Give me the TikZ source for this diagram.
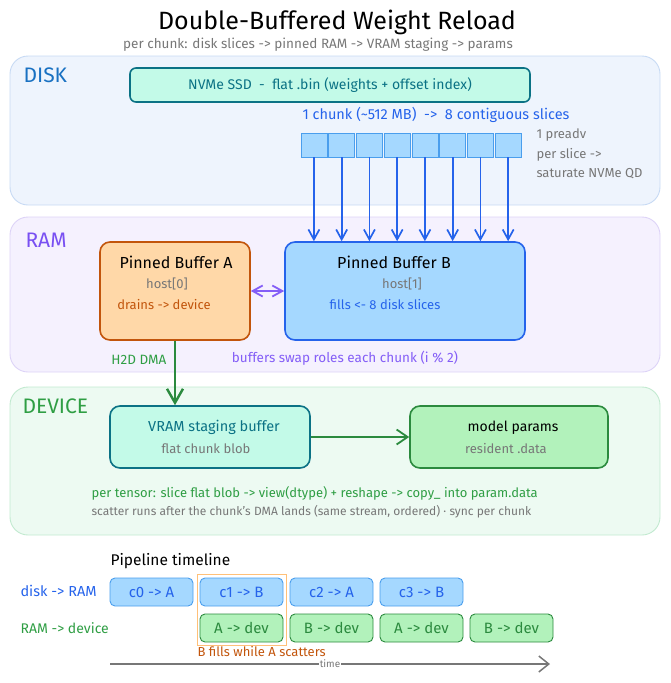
\documentclass[tikz,border=0pt]{standalone}
\usepackage{fontspec}
\setmainfont{Fira Sans}
\usetikzlibrary{arrows.meta}

\definecolor{diskfill}{HTML}{EEF4FD}
\definecolor{diskline}{HTML}{C7DAF4}
\definecolor{ramfill}{HTML}{F5F1FE}
\definecolor{ramline}{HTML}{DDD3F7}
\definecolor{devfill}{HTML}{EDFAF2}
\definecolor{devline}{HTML}{C2EAD0}
\definecolor{diskblue}{HTML}{1971C2}
\definecolor{chunkblue}{HTML}{2563EB}
\definecolor{slicefill}{HTML}{A5D8FF}
\definecolor{sliceline}{HTML}{4A9EED}
\definecolor{rampurple}{HTML}{7950F2}
\definecolor{swappurple}{HTML}{845EF7}
\definecolor{afill}{HTML}{FFD8A8}
\definecolor{aline}{HTML}{C2550C}
\definecolor{tealfill}{HTML}{C3FAE8}
\definecolor{tealline}{HTML}{0B7285}
\definecolor{greenfill}{HTML}{B2F2BB}
\definecolor{greenline}{HTML}{2B8A3E}
\definecolor{greentext}{HTML}{2F9E44}
\definecolor{hint}{HTML}{777777}
\definecolor{hilite}{HTML}{FFC078}

\newcommand{\fsz}[1]{\fontsize{#1}{#1}\selectfont}

\begin{document}
\begin{tikzpicture}[x=1pt, y=-1pt, >={Straight Barb[length=10pt, width=11pt]},
    panel/.style={draw, rounded corners=18pt, line width=0.9pt},
    tag/.style={anchor=west, font=\fsz{21}},
    box/.style={draw, rounded corners=10pt, line width=1.6pt, inner sep=0pt},
    slice/.style={draw=sliceline, fill=slicefill, line width=0.8pt, minimum width=26pt, minimum height=24pt, inner sep=0pt},
    lane/.style={draw, rounded corners=5pt, line width=0.9pt, minimum width=83pt, minimum height=28pt, inner sep=0pt, font=\fsz{15}},
    txt/.style={font=\fsz{13}},
    note/.style={font=\fsz{13}, text=hint}]
  \useasboundingbox (0,0) rectangle (670,683);

  % title
  \node[font=\fsz{25}] (title) at (337,22) {Double-Buffered Weight Reload};
  \node[note, font=\fsz{13.5}] (subtitle) at (318,45) {per chunk: disk slices -> pinned RAM -> VRAM staging -> params};

  % layers
  \draw[panel, draw=diskline, fill=diskfill] (10,56) rectangle (660,205);
  \draw[panel, draw=ramline, fill=ramfill] (10,217) rectangle (660,372);
  \draw[panel, draw=devline, fill=devfill] (10,387) rectangle (660,535);
  \node[tag, text=diskblue] (disklbl) at (20,75) {DISK};
  \node[tag, text=rampurple] (ramlbl) at (22,240) {RAM};
  \node[tag, text=greentext] (devlbl) at (19,406) {DEVICE};

  % disk
  \node[box, draw=tealline, fill=tealfill, rounded corners=6pt, minimum width=400pt, minimum height=34pt,
    text=tealline, font=\fsz{14}] (ssd) at (330,85) {NVMe SSD \ - \ flat .bin (weights + offset index)};
  \node[txt, text=chunkblue, font=\fsz{14.5}] (chunk) at (436,115) {1 chunk (\textasciitilde512 MB) \ -> \ 8 contiguous slices};
  \foreach \i in {0,...,7}
    \node[slice] (s\i) at (313.9+27.75*\i,145) {};
  \node[note, anchor=west] (qd1) at (533,135) {1 preadv};
  \node[note, anchor=west] (qd2) at (533,155) {per slice ->};
  \node[note, anchor=west] (qd3) at (533,174) {saturate NVMe QD};

  % ram
  \node[box, draw=aline, fill=afill, minimum width=150pt, minimum height=98pt] (bufA) at (175,291) {};
  \node[box, draw=chunkblue, fill=slicefill, minimum width=240pt, minimum height=98pt] (bufB) at (405,291) {};
  \node[txt, font=\fsz{16}] (nameA) at (176,262) {Pinned Buffer A};
  \node[note] (hostA) at (167,284) {host[0]};
  \node[txt, text=aline] (roleA) at (164,305) {drains -> device};
  \node[txt, font=\fsz{16}] (nameB) at (394,262) {Pinned Buffer B};
  \node[note] (hostB) at (402,284) {host[1]};
  \node[txt, text=chunkblue] (roleB) at (385,305) {fills <- 8 disk slices};
  \foreach \i in {0,...,7}
    \draw[->, chunkblue, line width=1.7pt] (s\i.south) -- (s\i.south |- bufB.north);
  \draw[<->, swappurple, line width=1.8pt, >={Straight Barb[length=10pt, width=11pt]}] (bufA.east) -- (bufB.west);
  \node[txt, text=swappurple, font=\fsz{13.5}] (swap) at (345,358) {buffers swap roles each chunk (i \% 2)};

  % device
  \node[box, draw=tealline, fill=tealfill, minimum width=200pt, minimum height=62pt] (vram) at (210,437) {};
  \node[box, draw=greenline, fill=greenfill, minimum width=198pt, minimum height=62pt] (params) at (509,437) {};
  \node[txt, text=tealline, font=\fsz{14.5}] (vramname) at (214,427) {VRAM staging buffer};
  \node[note] (vramsub) at (206,449) {flat chunk blob};
  \node[txt, font=\fsz{14}] (parname) at (513,428) {model params};
  \node[note] (parsub) at (506,449) {resident .data};
  \draw[->, greenline, line width=2.4pt, >={Straight Barb[length=14pt, width=16pt]}] (bufA.south) -- (bufA.south |- vram.north)
    node[pos=0.3, left=4pt, text=greentext, font=\fsz{13.5}] (dma) {H2D DMA};
  \draw[->, greenline, line width=1.8pt, >={Straight Barb[length=11pt, width=15pt]}] (vram) -- (params);
  \node[txt, anchor=west, text=greentext] (scat1) at (88,493)
    {per tensor: slice flat blob -> view(dtype) + reshape -> copy\_ into param.data};
  \node[note, anchor=west, font=\fsz{12}] (scat2) at (88,512)
    {scatter runs after the chunk's DMA lands (same stream, ordered) · sync per chunk};

  % timeline
  \node[txt, anchor=west, font=\fsz{15.5}] (pipe) at (107,561) {Pipeline timeline};
  \node[txt, anchor=west, text=chunkblue, font=\fsz{14.5}] (row1) at (17,591) {disk -> RAM};
  \node[txt, anchor=west, text=greentext, font=\fsz{14}] (row2) at (17,628) {RAM -> device};
  \draw[draw=hilite, line width=0.8pt] (197,574) rectangle (286,645);
  \foreach \lbl [count=\k from 0] in {c0 -> A, c1 -> B, c2 -> A, c3 -> B}
    \node[lane, draw=sliceline, fill=slicefill, text=chunkblue] (load\k) at (151.5+90*\k,592) {\lbl};
  \foreach \lbl [count=\k from 1] in {A -> dev, B -> dev, A -> dev, B -> dev}
    \node[lane, draw=greenline, fill=greenfill, text=greenline] (drain\k) at (151.5+90*\k,628) {\lbl};
  \node[txt, anchor=west, text=aline] (overlap) at (194,651) {B fills while A scatters};
  \coordinate (t0) at (110,664);
  \coordinate (t1) at (550,664);
  \draw[->, hint, line width=1.5pt, >={Straight Barb[length=10pt, width=16pt]}] (t0) -- (t1)
    node[midway, fill=white, inner sep=1pt, font=\fsz{10}] (time) {time};
\end{tikzpicture}
\end{document}
